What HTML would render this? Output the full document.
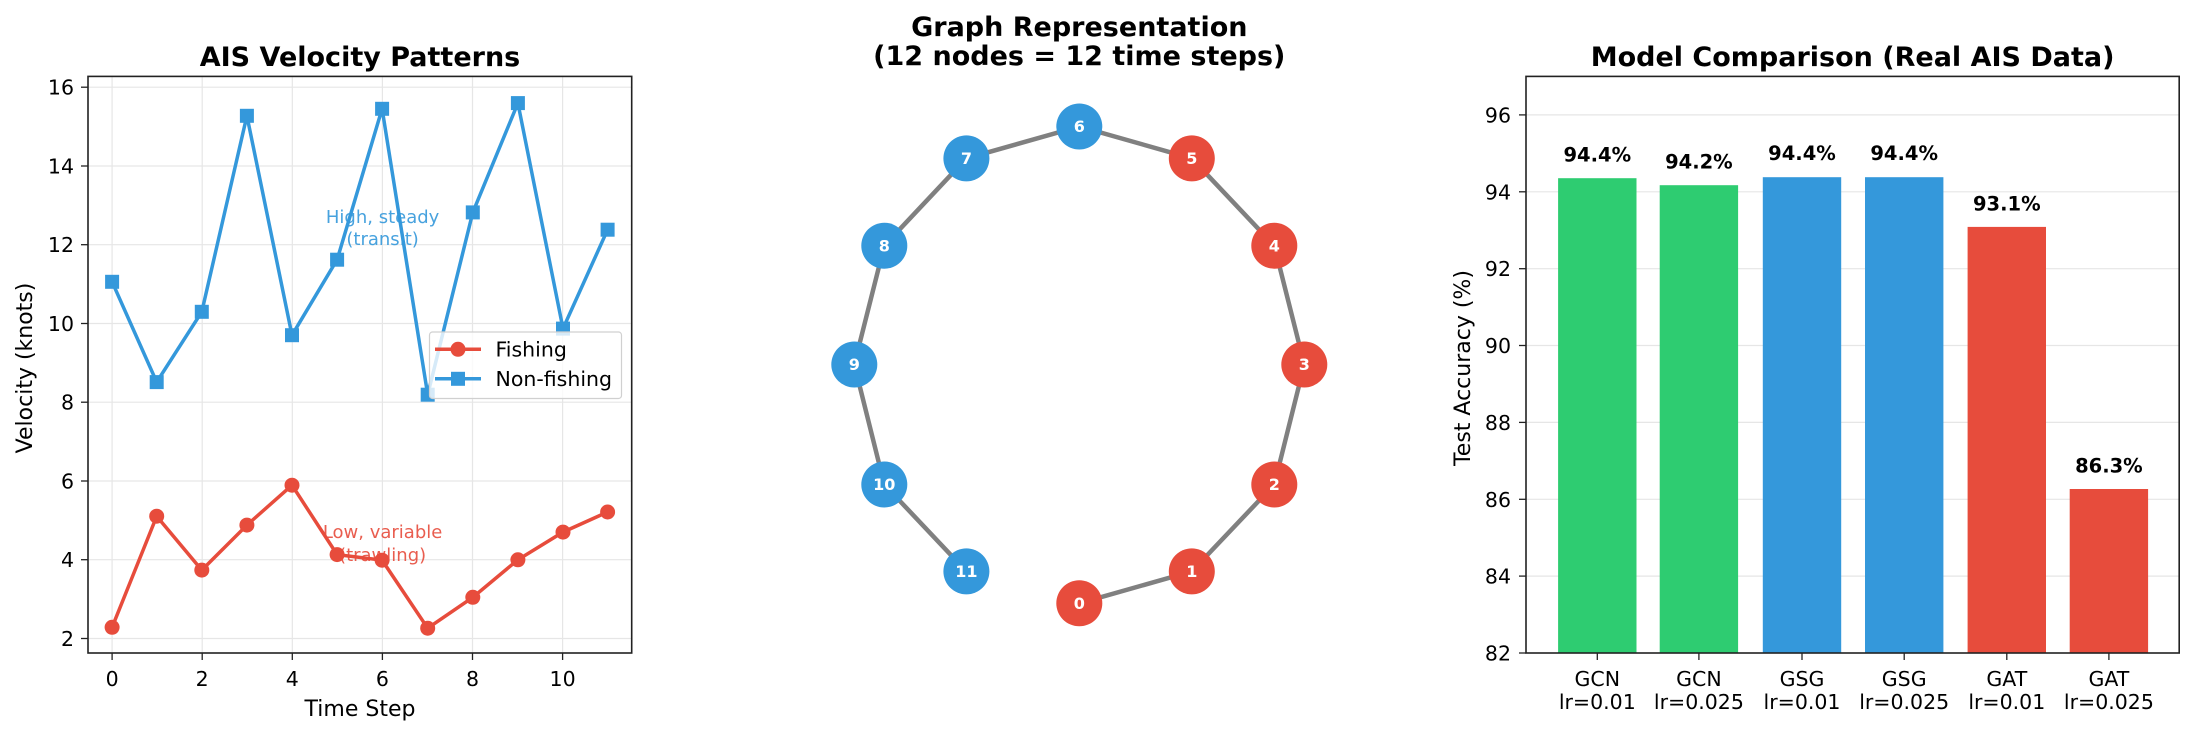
<!DOCTYPE html>
<html><head><meta charset="utf-8"><style>
html,body{margin:0;padding:0;background:#fff}
svg{display:block;font-family:"DejaVu Sans","Liberation Sans",sans-serif}
</style></head><body>
<svg width="2195" height="735" viewBox="0 0 2195 735" xmlns="http://www.w3.org/2000/svg">
<!-- PANEL 1 -->
<text x="360" y="66" font-size="27" font-weight="bold" text-anchor="middle">AIS Velocity Patterns</text>
<g stroke="#e6e6e6" stroke-width="1.2">
<line x1="88" x2="631.7" y1="638.5" y2="638.5"/><line x1="88" x2="631.7" y1="559.7" y2="559.7"/><line x1="88" x2="631.7" y1="481" y2="481"/><line x1="88" x2="631.7" y1="402.2" y2="402.2"/><line x1="88" x2="631.7" y1="323.5" y2="323.5"/><line x1="88" x2="631.7" y1="244.7" y2="244.7"/><line x1="88" x2="631.7" y1="166" y2="166"/><line x1="88" x2="631.7" y1="87.2" y2="87.2"/>
<line y1="76.4" y2="653" x1="112.1" x2="112.1"/><line y1="76.4" y2="653" x1="202.2" x2="202.2"/><line y1="76.4" y2="653" x1="292.3" x2="292.3"/><line y1="76.4" y2="653" x1="382.4" x2="382.4"/><line y1="76.4" y2="653" x1="472.5" x2="472.5"/><line y1="76.4" y2="653" x1="562.6" x2="562.6"/>
</g>
<g fill="#3498db" font-size="18" text-anchor="middle" opacity="0.9"><text x="382.6" y="223">High, steady</text><text x="382.6" y="245">(transit)</text></g>
<g fill="#e74c3c" font-size="18" text-anchor="middle" opacity="0.9"><text x="382.6" y="538">Low, variable</text><text x="382.6" y="561">(trawling)</text></g>
<polyline fill="none" stroke="#3498db" stroke-width="3.5" points="112.1,281.8 156.7,382.1 201.8,311.8 246.9,115.8 292,335.2 337.1,259.7 382.1,108.8 427.7,394.7 472.8,212.4 517.9,103.1 563,328.6 607.6,229.7"/>
<g fill="#3498db">
<rect x="105.1" y="274.8" width="14" height="14"/><rect x="149.7" y="375.1" width="14" height="14"/><rect x="194.8" y="304.8" width="14" height="14"/><rect x="239.9" y="108.8" width="14" height="14"/><rect x="285" y="328.2" width="14" height="14"/><rect x="330.1" y="252.7" width="14" height="14"/><rect x="375.1" y="101.8" width="14" height="14"/><rect x="420.7" y="387.7" width="14" height="14"/><rect x="465.8" y="205.4" width="14" height="14"/><rect x="510.9" y="96.1" width="14" height="14"/><rect x="556" y="321.6" width="14" height="14"/><rect x="600.6" y="222.7" width="14" height="14"/>
</g>
<polyline fill="none" stroke="#e74c3c" stroke-width="3.5" points="112.1,627.3 156.7,516.2 201.8,570.1 246.9,525.1 292,485.2 337.1,554.6 382.1,560.2 427.7,628.2 472.8,597.3 517.9,559.8 563,532.1 607.6,512"/>
<g fill="#e74c3c">
<circle cx="112.1" cy="627.3" r="7.5"/><circle cx="156.7" cy="516.2" r="7.5"/><circle cx="201.8" cy="570.1" r="7.5"/><circle cx="246.9" cy="525.1" r="7.5"/><circle cx="292" cy="485.2" r="7.5"/><circle cx="337.1" cy="554.6" r="7.5"/><circle cx="382.1" cy="560.2" r="7.5"/><circle cx="427.7" cy="628.2" r="7.5"/><circle cx="472.8" cy="597.3" r="7.5"/><circle cx="517.9" cy="559.8" r="7.5"/><circle cx="563" cy="532.1" r="7.5"/><circle cx="607.6" cy="512" r="7.5"/>
</g>
<rect x="429.5" y="332" width="192" height="66.5" rx="3" fill="#fff" fill-opacity="0.8" stroke="#d0d0d0" stroke-width="1.2"/>
<line x1="435" x2="481" y1="349.3" y2="349.3" stroke="#e74c3c" stroke-width="3.5"/><circle cx="458" cy="349.3" r="7.5" fill="#e74c3c"/>
<line x1="435" x2="481" y1="378.8" y2="378.8" stroke="#3498db" stroke-width="3.5"/><rect x="451" y="371.8" width="14" height="14" fill="#3498db"/>
<text x="495.5" y="356.5" font-size="20.5">Fishing</text><text x="495.5" y="386" font-size="20.5">Non-fishing</text>
<rect x="88" y="76.4" width="543.7" height="576.6" fill="none" stroke="#222" stroke-width="1.6"/>
<g stroke="#222" stroke-width="1.3">
<line x1="81" x2="88" y1="638.5" y2="638.5"/><line x1="81" x2="88" y1="559.7" y2="559.7"/><line x1="81" x2="88" y1="481" y2="481"/><line x1="81" x2="88" y1="402.2" y2="402.2"/><line x1="81" x2="88" y1="323.5" y2="323.5"/><line x1="81" x2="88" y1="244.7" y2="244.7"/><line x1="81" x2="88" y1="166" y2="166"/><line x1="81" x2="88" y1="87.2" y2="87.2"/>
<line y1="653" y2="660" x1="112.1" x2="112.1"/><line y1="653" y2="660" x1="202.2" x2="202.2"/><line y1="653" y2="660" x1="292.3" x2="292.3"/><line y1="653" y2="660" x1="382.4" x2="382.4"/><line y1="653" y2="660" x1="472.5" x2="472.5"/><line y1="653" y2="660" x1="562.6" x2="562.6"/>
</g>
<g font-size="20.5" text-anchor="end">
<text x="74" y="646">2</text><text x="74" y="567">4</text><text x="74" y="488.5">6</text><text x="74" y="409.5">8</text><text x="74" y="331">10</text><text x="74" y="252">12</text><text x="74" y="173.5">14</text><text x="74" y="94.5">16</text>
</g>
<g font-size="20.5" text-anchor="middle">
<text x="112.1" y="686">0</text><text x="202.2" y="686">2</text><text x="292.3" y="686">4</text><text x="382.4" y="686">6</text><text x="472.5" y="686">8</text><text x="562.6" y="686">10</text>
</g>
<g font-size="22" text-anchor="middle">
<text x="360" y="716">Time Step</text>
<text transform="translate(32,368) rotate(-90)">Velocity (knots)</text>
</g>

<!-- PANEL 2 -->
<g font-size="27" font-weight="bold" text-anchor="middle"><text x="1079.3" y="36">Graph Representation</text><text x="1079.3" y="65">(12 nodes = 12 time steps)</text></g>
<polyline fill="none" stroke="#808080" stroke-width="4.5" points="1079.3,603.3 1191.8,571.4 1274.3,484.5 1304.3,364.5 1274.3,245.7 1191.8,158.4 1079.3,126.5 966.4,158.4 884.3,245.7 854.3,364.5 884.3,484.5 966.4,571.4"/>
<g fill="#e74c3c"><circle cx="1079.3" cy="603.3" r="23"/><circle cx="1191.8" cy="571.4" r="23"/><circle cx="1274.3" cy="484.5" r="23"/><circle cx="1304.3" cy="364.5" r="23"/><circle cx="1274.3" cy="245.7" r="23"/><circle cx="1191.8" cy="158.4" r="23"/></g>
<g fill="#3498db"><circle cx="1079.3" cy="126.5" r="23"/><circle cx="966.4" cy="158.4" r="23"/><circle cx="884.3" cy="245.7" r="23"/><circle cx="854.3" cy="364.5" r="23"/><circle cx="884.3" cy="484.5" r="23"/><circle cx="966.4" cy="571.4" r="23"/></g>
<g fill="#fff" font-size="16" font-weight="bold" text-anchor="middle">
<text x="1079.3" y="609">0</text><text x="1191.8" y="577">1</text><text x="1274.3" y="490">2</text><text x="1304.3" y="370">3</text><text x="1274.3" y="251.5">4</text><text x="1191.8" y="164">5</text><text x="1079.3" y="132">6</text><text x="966.4" y="164">7</text><text x="884.3" y="251.5">8</text><text x="854.3" y="370">9</text><text x="884.3" y="490">10</text><text x="966.4" y="577">11</text>
</g>

<!-- PANEL 3 -->
<text x="1852.6" y="66" font-size="27" font-weight="bold" text-anchor="middle">Model Comparison (Real AIS Data)</text>
<g stroke="#e6e6e6" stroke-width="1.2">
<line x1="1526" x2="2179.2" y1="576.1" y2="576.1"/><line x1="1526" x2="2179.2" y1="499.3" y2="499.3"/><line x1="1526" x2="2179.2" y1="422.4" y2="422.4"/><line x1="1526" x2="2179.2" y1="345.5" y2="345.5"/><line x1="1526" x2="2179.2" y1="268.7" y2="268.7"/><line x1="1526" x2="2179.2" y1="191.8" y2="191.8"/><line x1="1526" x2="2179.2" y1="114.9" y2="114.9"/>
</g>
<rect x="1558.1" y="178.2" width="78.4" height="474.8" fill="#2ecc71"/>
<rect x="1659.7" y="185.2" width="78.4" height="467.8" fill="#2ecc71"/>
<rect x="1762.8" y="177.2" width="78.4" height="475.8" fill="#3498db"/>
<rect x="1865" y="177.2" width="78.4" height="475.8" fill="#3498db"/>
<rect x="1967.6" y="226.9" width="78.4" height="426.1" fill="#e74c3c"/>
<rect x="2069.7" y="489" width="78.4" height="164" fill="#e74c3c"/>
<g font-size="19.5" font-weight="bold" text-anchor="middle">
<text x="1597.3" y="161.5">94.4%</text><text x="1698.9" y="168.5">94.2%</text><text x="1802" y="160">94.4%</text><text x="1904.2" y="160">94.4%</text><text x="2006.8" y="210.7">93.1%</text><text x="2108.9" y="472.3">86.3%</text>
</g>
<rect x="1526" y="76.4" width="653.2" height="576.6" fill="none" stroke="#222" stroke-width="1.6"/>
<g stroke="#222" stroke-width="1.3">
<line x1="1519" x2="1526" y1="653" y2="653"/><line x1="1519" x2="1526" y1="576.1" y2="576.1"/><line x1="1519" x2="1526" y1="499.3" y2="499.3"/><line x1="1519" x2="1526" y1="422.4" y2="422.4"/><line x1="1519" x2="1526" y1="345.5" y2="345.5"/><line x1="1519" x2="1526" y1="268.7" y2="268.7"/><line x1="1519" x2="1526" y1="191.8" y2="191.8"/><line x1="1519" x2="1526" y1="114.9" y2="114.9"/>
<line y1="653" y2="660" x1="1597.3" x2="1597.3"/><line y1="653" y2="660" x1="1698.9" x2="1698.9"/><line y1="653" y2="660" x1="1802" x2="1802"/><line y1="653" y2="660" x1="1904.2" x2="1904.2"/><line y1="653" y2="660" x1="2006.8" x2="2006.8"/><line y1="653" y2="660" x1="2108.9" x2="2108.9"/>
</g>
<g font-size="20.5" text-anchor="end">
<text x="1511" y="660.5">82</text><text x="1511" y="583.5">84</text><text x="1511" y="506.8">86</text><text x="1511" y="430">88</text><text x="1511" y="353">90</text><text x="1511" y="276.2">92</text><text x="1511" y="199.3">94</text><text x="1511" y="122.4">96</text>
</g>
<g font-size="20.5" text-anchor="middle">
<text x="1597.3" y="686">GCN</text><text x="1597.3" y="709">lr=0.01</text>
<text x="1698.9" y="686">GCN</text><text x="1698.9" y="709">lr=0.025</text>
<text x="1802" y="686">GSG</text><text x="1802" y="709">lr=0.01</text>
<text x="1904.2" y="686">GSG</text><text x="1904.2" y="709">lr=0.025</text>
<text x="2006.8" y="686">GAT</text><text x="2006.8" y="709">lr=0.01</text>
<text x="2108.9" y="686">GAT</text><text x="2108.9" y="709">lr=0.025</text>
</g>
<text transform="translate(1470,368) rotate(-90)" font-size="22" text-anchor="middle">Test Accuracy (%)</text>
</svg>
</body></html>
